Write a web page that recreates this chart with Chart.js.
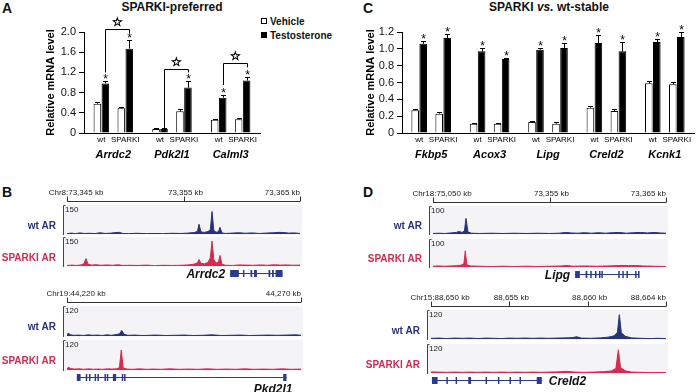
<!DOCTYPE html>
<html>
<head>
<meta charset="utf-8">
<script src="https://cdn.jsdelivr.net/npm/chart.js@4.4.1/dist/chart.umd.min.js"></script>
<style>
  html, body { margin: 0; padding: 0; background: #fff; }
  #fig { position: relative; width: 700px; height: 392px; overflow: hidden;
         font-family: "Liberation Sans", Arial, sans-serif; color: #111; }
  #fig canvas { position: absolute; }
  .txt { position: absolute; white-space: nowrap; }
  .letter { font-weight: bold; font-size: 14px; line-height: 14px; }
  .title { font-weight: bold; font-size: 12px; line-height: 12px; text-align: center; }
  .leg { font-weight: bold; font-size: 10px; height: 12px; display: flex; align-items: center; }
  .leg i { display: inline-block; width: 4px; height: 4px; border: 1px solid #000; margin-right: 3px; }
</style>
</head>
<body>
<div id="fig">
  <div class="txt letter" style="left:2px;top:1px">A</div>
  <div class="txt letter" style="left:2px;top:185px">B</div>
  <div class="txt letter" style="left:363px;top:1px">C</div>
  <div class="txt letter" style="left:363px;top:185px">D</div>
  <div class="txt title" style="left:92px;top:1px;width:160px">SPARKI-preferred</div>
  <div class="txt title" style="left:469px;top:1px;width:160px">SPARKI <i>vs.</i> wt-stable</div>
  <div class="txt leg" style="left:261px;top:15px"><i style="background:#fff"></i>Vehicle</div>
  <div class="txt leg" style="left:261px;top:29px"><i style="background:#000"></i>Testosterone</div>
</div>
<script>
// ---- panel A: SPARKI-preferred genes ----
const genesA = ['Arrdc2', 'Pdk2l1', 'Calml3'];
const strainLabels = ['wt', 'SPARKI'];
const vehWtA = [0.58, 0.08, 0.26];
const vehWtErrA = [0.03, 0.01, 0.01];
const testWtA = [0.98, 0.08, 0.70];
const testWtErrA = [0.04, 0.02, 0.05];
const vehSpA = [0.49, 0.43, 0.27];
const vehSpErrA = [0.03, 0.05, 0.03];
const testSpA = [1.67, 0.90, 1.04];
const testSpErrA = [0.17, 0.13, 0.06];
const starWtA = [1, 0, 1];
const starSpA = [1, 1, 1];
// wt vs SPARKI comparison brackets (mRNA level units)
const bracketLowA = [1.20, 0.10, 0.95];
const bracketTopA = [2.05, 1.26, 1.39];
const bracketHighA = [1.98, 1.20, 1.30];

// ---- panel C: SPARKI vs. wt-stable genes ----
const genesC = ['Fkbp5', 'Acox3', 'Lipg', 'Creld2', 'Kcnk1'];
const vehWtC = [0.27, 0.11, 0.13, 0.30, 0.59];
const vehWtErrC = [0.02, 0.01, 0.01, 0.015, 0.025];
const testWtC = [1.06, 0.97, 0.99, 1.07, 1.08];
const testWtErrC = [0.03, 0.045, 0.025, 0.10, 0.04];
const vehSpC = [0.23, 0.11, 0.11, 0.26, 0.58];
const vehSpErrC = [0.015, 0.01, 0.02, 0.02, 0.025];
const testSpC = [1.13, 0.88, 1.01, 0.97, 1.14];
const testSpErrC = [0.045, 0.015, 0.06, 0.11, 0.055];
const starWtC = [1, 1, 1, 1, 1];
const starSpC = [1, 1, 1, 1, 1];

// ---- AR ChIP-seq tracks: [kb from window start, signal] ----
const b1Ticks = [0, 10, 20];
const b1TickLabels = ['Chr8:73,345 kb', '73,355 kb', '73,365 kb'];
const b1Wt = [[0,2],[0.4,5],[0.7,2],[1.1,6],[1.5,3],[2.0,4],[2.4,2],[2.8,7],[3.3,3],[3.8,5],[4.2,8],[4.5,9],[4.8,3],
  [5.3,2],[6.0,4],[6.8,2],[7.5,3],[8.2,2],[9.0,4],[9.8,3],[10.4,5],[10.9,8],[11.2,14],[11.33,54],[11.5,12],[11.8,9],
  [12.1,14],[12.3,22],[12.45,125],[12.6,20],[12.8,10],[13.0,12],[13.13,37],[13.3,6],[13.6,3],[14.2,5],[14.8,7],[15.3,4],
  [15.9,6],[16.5,3],[17.1,5],[17.7,7],[18.2,9],[18.6,8],[19.0,5],[19.5,6],[20,3]];
const b1Sparki = [[0,3],[0.4,5],[0.8,3],[1.2,6],[1.45,12],[1.63,41],[1.8,10],[2.1,5],[2.5,7],[2.9,4],[3.4,6],[3.9,4],
  [4.4,7],[4.8,3],[5.4,4],[6.1,3],[6.8,5],[7.5,2],[8.2,4],[9.0,3],[9.8,4],[10.4,6],[10.9,10],[11.2,18],[11.33,36],
  [11.5,14],[11.8,12],[12.1,20],[12.3,45],[12.45,139],[12.6,35],[12.8,16],[13.0,22],[13.13,59],[13.3,10],[13.6,4],
  [14.2,3],[14.8,6],[15.4,5],[16.0,4],[16.6,6],[17.2,4],[17.8,7],[18.3,5],[18.8,6],[19.4,4],[20,5]];
const arrdc2Span = [14.0, 18.5];
const arrdc2Exons = [[14.0,14.75],[15.1,15.2],[15.75,15.9],[16.05,16.3],[17.3,17.45],[17.6,17.75],[17.9,18.5]];

const b2Ticks = [0, 50];
const b2TickLabels = ['Chr19:44,220 kb', '44,270 kb'];
const b2Wt = [[0,4],[0.3,13],[0.7,5],[1.5,3],[2.5,4],[3.5,2],[4.5,5],[5.5,3],[6.5,4],[7.5,2],[8.5,5],[9.5,3],[10.5,6],
  [11.2,9],[11.7,24],[12.2,7],[13,3],[14.5,4],[16,2],[17.5,3],[19,4],[21,2],[23,3],[25,4],[27,2],[29,3],[31,5],[33,2],
  [35,3],[37,4],[39,2],[41,3],[43,4],[45,3],[47,4],[49,5],[50,3]];
const b2Sparki = [[0,5],[0.3,12],[0.8,6],[1.6,4],[2.6,5],[3.6,3],[4.6,5],[5.6,3],[6.6,4],[7.6,3],[8.6,5],[9.6,4],[10.6,5],
  [11.2,10],[11.6,86],[12.0,9],[12.8,4],[14,3],[15.5,5],[17,3],[18.5,4],[20,3],[22,5],[24,3],[26,4],[28,3],[30,5],[32,3],
  [34,4],[36,3],[38,5],[40,3],[42,4],[44,3],[46,5],[48,3],[50,4]];
const pkd2l1Span = [2.1, 46.9];
const pkd2l1Exons = [[2.1,2.9],[4.0,4.2],[4.7,4.9],[5.9,6.1],[6.5,6.7],[8.0,8.2],[8.5,8.7],[9.8,10.5],[11.7,11.9],[12.2,12.4],[46.2,46.9]];

const d1Ticks = [0, 10, 20];
const d1TickLabels = ['Chr18:75,050 kb', '73,355 kb', '73,365 kb'];
const d1Wt = [[0,2],[0.5,3],[1.0,2],[1.5,4],[2.0,6],[2.2,10],[2.5,6],[2.7,12],[2.83,60],[3.0,8],[3.3,3],[4,2],[5,3],[6,2],
  [7,3],[8,2],[9,3],[10,2],[10.8,3],[11.4,6],[11.9,4],[12.4,3],[13,5],[13.6,3],[14.2,5],[14.8,3],[15.4,5],[16,6],[16.6,3],
  [17.2,5],[17.8,6],[18.4,4],[19,6],[19.5,4],[20,3]];
const d1Sparki = [[0,3],[0.5,4],[1.0,3],[1.5,4],[2.0,5],[2.4,7],[2.65,12],[2.77,62],[2.9,9],[3.2,4],[4,3],[5,2],[6,3],[7,2],
  [8,3],[9,2],[10,3],[11,4],[11.5,6],[12,3],[13,4],[14,3],[15,4],[15.6,5],[16.2,6],[16.8,5],[17.4,6],[18,4],[19,3],[20,2]];
const lipgSpan = [12.2, 17.7];
const lipgExons = [[12.2,12.6],[13.1,13.25],[13.5,13.6],[13.9,14.0],[14.25,14.35],[14.45,14.55],[15.9,16.0],[16.25,16.35],
  [16.6,16.7],[17.35,17.45],[17.6,17.7]];

const d2Ticks = [0, 5, 10, 15];
const d2TickLabels = ['Chr15:88,650 kb', '88,655 kb', '88,660 kb', '88,664 kb'];
const d2Wt = [[0,3],[0.5,4],[1,2],[1.5,4],[2,3],[2.5,4],[3,2],[3.5,4],[4,3],[4.5,2],[5,4],[5.5,3],[6,4],[6.5,3],[7,4],
  [7.5,3],[8,4],[8.5,5],[9,6],[9.3,10],[9.6,4],[10.2,3],[10.8,5],[11.3,8],[11.7,14],[11.9,30],[12.02,108],[12.15,28],
  [12.4,12],[12.8,5],[13.4,3],[14,2],[14.5,3],[15,2]];
const d2Sparki = [[0,5],[0.5,4],[1,3],[1.5,4],[2,3],[2.5,4],[3,3],[3.5,4],[4,3],[4.5,4],[5,3],[5.5,4],[6,3],[6.5,4],[7,3],
  [7.5,4],[8,5],[8.67,7],[9.2,4],[9.8,3],[10.4,4],[11,6],[11.5,9],[11.8,20],[11.96,103],[12.1,24],[12.4,10],[12.8,4],
  [13.4,3],[14,2],[15,2]];
const creld2Span = [0.06, 7.07];
const creld2Exons = [[0.06,0.42],[0.98,1.06],[1.57,1.65],[2.38,2.56],[3.48,3.56],[4.27,4.35],[5.01,5.09],[5.65,5.73],[6.75,7.07]];

const FONT = '"Liberation Sans", Arial, sans-serif';
Chart.defaults.font.family = FONT;
Chart.defaults.color = '#111';
Chart.defaults.animation = false;

const fig = document.getElementById('fig');
function addCanvas(left, top, w, h) {
  const c = document.createElement('canvas');
  c.width = w; c.height = h;
  c.style.left = left + 'px'; c.style.top = top + 'px';
  c.style.width = w + 'px'; c.style.height = h + 'px';
  fig.appendChild(c);
  return c;
}

// grouped bars: wt pair, empty slot, SPARKI pair for every gene
function barPanel(cv, p) {
  const marks = {
    id: 'marks',
    afterDraw(chart) {
      const { ctx, chartArea, scales: { x, y } } = chart;
      const bx = (d, i) => chart.getDatasetMeta(d).data[i].x;
      ctx.save();
      ctx.strokeStyle = '#000'; ctx.fillStyle = '#000'; ctx.lineWidth = 1;
      chart.data.datasets.forEach((d, di) => {
        if (!d.err) return;
        d.data.forEach((v, i) => {
          const cx = Math.round(bx(di, i)) + 0.5;
          const y1 = Math.round(y.getPixelForValue(v + d.err[i])) + 0.5;
          ctx.beginPath();
          ctx.moveTo(cx, y.getPixelForValue(v)); ctx.lineTo(cx, y1);
          ctx.moveTo(cx - 2.5, y1); ctx.lineTo(cx + 2.5, y1);
          ctx.stroke();
          if (d.stars && d.stars[i]) {
            ctx.font = '12px ' + FONT; ctx.textAlign = 'center'; ctx.textBaseline = 'alphabetic';
            ctx.fillText('*', cx, y1 + 1.5);
          }
        });
      });
      if (p.bracketTop) {
        p.bracketTop.forEach((t, i) => {
          const lx = Math.round(bx(1, i)) + 0.5, rx = Math.round(bx(4, i)) + 0.5;
          const ty = Math.round(y.getPixelForValue(t)) + 0.5;
          ctx.lineWidth = 1;
          ctx.beginPath();
          ctx.moveTo(lx, y.getPixelForValue(p.bracketLow[i]));
          ctx.lineTo(lx, ty); ctx.lineTo(rx, ty);
          ctx.lineTo(rx, y.getPixelForValue(p.bracketHigh[i]));
          ctx.stroke();
          ctx.font = 'bold 12px "DejaVu Sans"'; ctx.textAlign = 'center'; ctx.textBaseline = 'middle';
          ctx.fillText('\u2606', (lx + rx) / 2, ty - 6.5);
          ctx.lineWidth = 0.6;
          ctx.strokeText('\u2606', (lx + rx) / 2, ty - 6.5);
        });
      }
      ctx.textAlign = 'center'; ctx.textBaseline = 'middle';
      chart.data.labels.forEach((g, i) => {
        ctx.font = '8px ' + FONT;
        ctx.fillText(strainLabels[0], (bx(0, i) + bx(1, i)) / 2, chartArea.bottom + 7);
        ctx.fillText(strainLabels[1], (bx(3, i) + bx(4, i)) / 2, chartArea.bottom + 7);
        ctx.font = 'italic bold 11px ' + FONT;
        ctx.fillText(g, x.getPixelForValue(i), chartArea.bottom + 22);
      });
      ctx.restore();
    }
  };
  const white = { backgroundColor: '#fff', borderColor: '#000', borderWidth: 1 };
  const black = { backgroundColor: '#000', borderColor: '#000', borderWidth: 1 };
  return new Chart(cv, {
    type: 'bar',
    data: {
      labels: p.genes,
      datasets: [
        { label: 'Vehicle wt', data: p.vehWt, err: p.vehWtErr, ...white },
        { label: 'Testosterone wt', data: p.testWt, err: p.testWtErr, stars: p.starWt, ...black },
        { label: '', data: p.genes.map(() => null) },
        { label: 'Vehicle SPARKI', data: p.vehSp, err: p.vehSpErr, ...white },
        { label: 'Testosterone SPARKI', data: p.testSp, err: p.testSpErr, stars: p.starSp, ...black }
      ]
    },
    options: {
      responsive: false,
      events: [],
      barPercentage: 0.95,
      categoryPercentage: p.catPct,
      layout: { padding: p.padding },
      plugins: { legend: { display: false }, tooltip: { enabled: false } },
      scales: {
        x: {
          grid: { display: false },
          ticks: { display: false },
          border: { display: true, color: '#000', width: 1 }
        },
        y: {
          min: 0, max: p.max,
          afterFit: s => { s.width = p.axisWidth; },
          ticks: { stepSize: p.step, padding: 3, color: '#111', font: { size: 11 },
                   callback: v => v === 0 ? '0' : v.toFixed(1) },
          grid: { drawOnChartArea: false, drawTicks: true, tickLength: 5, color: '#000' },
          border: { display: true, color: '#000', width: 1 },
          title: { display: true, text: 'Relative mRNA level', color: '#000',
                   font: { size: 11, weight: 'bold' } }
        }
      }
    },
    plugins: [marks]
  });
}

barPanel(addCanvas(0, 0, 350, 180), {
  genes: genesA, vehWt: vehWtA, vehWtErr: vehWtErrA, testWt: testWtA, testWtErr: testWtErrA,
  vehSp: vehSpA, vehSpErr: vehSpErrA, testSp: testSpA, testSpErr: testSpErrA,
  starWt: starWtA, starSp: starSpA,
  bracketLow: bracketLowA, bracketTop: bracketTopA, bracketHigh: bracketHighA,
  max: 2.0, step: 0.4, catPct: 0.68, axisWidth: 44,
  padding: { left: 40, right: 90, top: 32, bottom: 39 }
});

barPanel(addCanvas(350, 0, 350, 180), {
  genes: genesC, vehWt: vehWtC, vehWtErr: vehWtErrC, testWt: testWtC, testWtErr: testWtErrC,
  vehSp: vehSpC, vehSpErr: vehSpErrC, testSp: testSpC, testSpErr: testSpErrC,
  starWt: starWtC, starSp: starSpC,
  max: 1.2, step: 0.2, catPct: 0.685, axisWidth: 42,
  padding: { left: 10, right: 6, top: 32, bottom: 39 }
});

// one browser track per canvas; ruler on top track, gene model under the bottom one
const WT = '#27327a', SP = '#d42b4f', GENE = '#2b3a8f';
function track(t) {
  const extraTop = t.ruler ? 22 : 2;
  const extraBot = t.gene ? 26 : 2;
  const cv = addCanvas(t.panelLeft, t.top - extraTop, 350, t.bottom - t.top + extraTop + extraBot);
  const deco = {
    id: 'deco',
    beforeDatasetsDraw(chart) {
      const { ctx, chartArea: a } = chart;
      const top = a.top - 2, bot = a.bottom + 1;
      ctx.save();
      ctx.fillStyle = '#f4f4f6';
      ctx.fillRect(a.left - 4, top, a.right - a.left + 6, bot - top);
      ctx.strokeStyle = '#444'; ctx.lineWidth = 1;
      ctx.beginPath();
      ctx.moveTo(a.left - 1.5, top + 0.5); ctx.lineTo(a.left - 3.5, top + 0.5); ctx.lineTo(a.left - 3.5, bot);
      ctx.stroke();
      ctx.fillStyle = '#222'; ctx.font = '8px ' + FONT; ctx.textAlign = 'left'; ctx.textBaseline = 'top';
      ctx.fillText(String(t.max), a.left - 2, top + 1);
      ctx.font = 'bold 10px ' + FONT; ctx.fillStyle = t.color;
      ctx.textAlign = 'right'; ctx.textBaseline = 'middle';
      ctx.fillText(t.label, a.left - 11, (top + bot) / 2 + 6);
      ctx.restore();
    },
    afterDraw(chart) {
      const { ctx, chartArea: a, scales: { x } } = chart;
      ctx.save();
      if (t.ruler) {
        const ry = Math.round(a.top - 6) + 0.5;
        ctx.strokeStyle = '#333'; ctx.lineWidth = 1;
        ctx.beginPath();
        ctx.moveTo(a.left, ry); ctx.lineTo(a.right, ry);
        t.ruler.ticks.forEach(v => {
          const px = Math.round(x.getPixelForValue(v)) + 0.5;
          ctx.moveTo(px, ry); ctx.lineTo(px, ry - 5);
        });
        ctx.stroke();
        ctx.fillStyle = '#222'; ctx.font = '8px ' + FONT; ctx.textBaseline = 'middle';
        const n = t.ruler.ticks.length;
        t.ruler.ticks.forEach((v, i) => {
          let px = x.getPixelForValue(v);
          if (i === 0) { ctx.textAlign = 'center'; px += 9; }
          else if (i === n - 1) ctx.textAlign = 'right';
          else { ctx.textAlign = 'center'; px += 2; }
          ctx.fillText(t.ruler.labels[i], px, ry - 9);
        });
      }
      if (t.gene) {
        const g = t.gene;
        const gy = Math.round(a.bottom + 7) + 0.5;
        const x0 = x.getPixelForValue(g.span[0]), x1 = x.getPixelForValue(g.span[1]);
        ctx.strokeStyle = GENE; ctx.fillStyle = GENE; ctx.lineWidth = 1;
        ctx.beginPath(); ctx.moveTo(x0, gy); ctx.lineTo(x1, gy); ctx.stroke();
        g.exons.forEach(e => {
          const ex = x.getPixelForValue(e[0]);
          ctx.fillRect(ex, gy - 3.5, Math.max(1.5, x.getPixelForValue(e[1]) - ex), 7);
        });
        ctx.fillStyle = '#111'; ctx.font = 'italic bold 12px ' + FONT; ctx.textBaseline = 'middle';
        if (g.place === 'left') { ctx.textAlign = 'right'; ctx.fillText(g.name, x0 - 5, gy + 1); }
        else if (g.place === 'right') { ctx.textAlign = 'left'; ctx.fillText(g.name, x1 + 7, gy + 1); }
        else { ctx.textAlign = 'right'; ctx.fillText(g.name, x1 + 6, gy + 12); }
      }
      ctx.restore();
    }
  };
  new Chart(cv, {
    type: 'line',
    data: { datasets: [{
      data: t.data.map(p => ({ x: p[0], y: p[1] })),
      borderColor: t.color, backgroundColor: t.color, borderWidth: 1,
      fill: 'origin', pointRadius: 0, tension: 0
    }] },
    options: {
      responsive: false, events: [],
      layout: { padding: { left: t.left - t.panelLeft, right: t.panelLeft + 350 - t.right,
                           top: extraTop + 2, bottom: extraBot + 1 } },
      plugins: { legend: { display: false }, tooltip: { enabled: false } },
      scales: {
        x: { type: 'linear', min: t.xmin, max: t.xmax, display: false },
        y: { min: 0, max: t.max, display: false }
      }
    },
    plugins: [deco]
  });
}

const loci = [
  { panelLeft: 0, left: 67, right: 300, xmax: 20, max: 150, tops: [205, 237], h: 30,
    ruler: { ticks: b1Ticks, labels: b1TickLabels }, wt: b1Wt, sp: b1Sparki,
    gene: { name: 'Arrdc2', span: arrdc2Span, exons: arrdc2Exons, place: 'left' } },
  { panelLeft: 0, left: 67, right: 301, xmax: 50, max: 120, tops: [306, 340], h: 31,
    ruler: { ticks: b2Ticks, labels: b2TickLabels }, wt: b2Wt, sp: b2Sparki,
    gene: { name: 'Pkd2l1', span: pkd2l1Span, exons: pkd2l1Exons, place: 'below' } },
  { panelLeft: 350, left: 433, right: 666, xmax: 20, max: 100, tops: [206, 239], h: 29,
    ruler: { ticks: d1Ticks, labels: d1TickLabels }, wt: d1Wt, sp: d1Sparki,
    gene: { name: 'Lipg', span: lipgSpan, exons: lipgExons, place: 'left' } },
  { panelLeft: 350, left: 431, right: 666, xmax: 15, max: 120, tops: [310, 344], h: 30,
    ruler: { ticks: d2Ticks, labels: d2TickLabels }, wt: d2Wt, sp: d2Sparki,
    gene: { name: 'Creld2', span: creld2Span, exons: creld2Exons, place: 'right' } }
];
loci.forEach(L => {
  const base = { panelLeft: L.panelLeft, left: L.left, right: L.right, xmin: 0, xmax: L.xmax, max: L.max };
  track({ ...base, top: L.tops[0], bottom: L.tops[0] + L.h, data: L.wt, color: WT, label: 'wt AR', ruler: L.ruler });
  track({ ...base, top: L.tops[1], bottom: L.tops[1] + L.h, data: L.sp, color: SP, label: 'SPARKI AR', gene: L.gene });
});
</script>
</body>
</html>
